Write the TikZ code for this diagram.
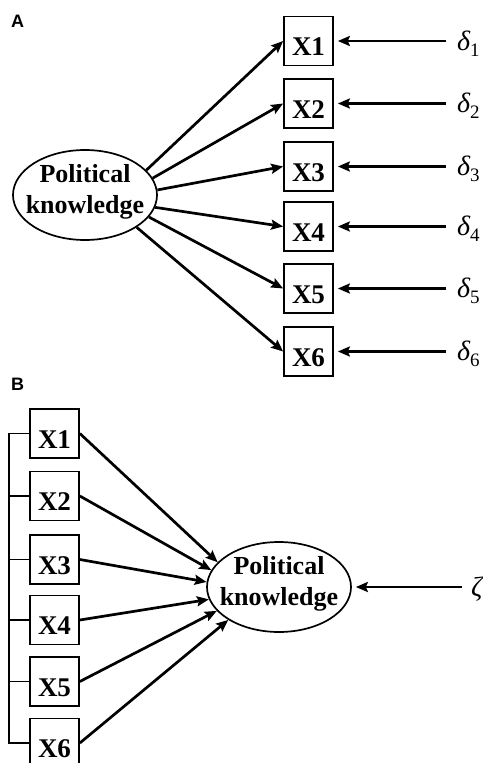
\documentclass[tikz,border=0pt]{standalone}
\usepackage{fontspec}
\setmainfont{Liberation Serif}
\newfontfamily\labfont{Liberation Sans}
\usetikzlibrary{arrows.meta,shapes.geometric}
\newcommand{\errsym}[2]{{\itshape #1}\raisebox{-0.22em}{\fontsize{19}{19}\selectfont\upshape #2}}
\begin{document}
\begin{tikzpicture}[x=1pt,y=-1pt,
 box/.style={draw, line width=1.7pt, minimum width=49pt, minimum height=49pt, inner sep=0pt},
 boxtxt/.style={font=\fontsize{27}{27}\selectfont\bfseries, inner sep=0pt},
 lat/.style={draw, ellipse, line width=1.7pt, minimum width=144pt, minimum height=90pt, inner sep=0pt},
 lattxt/.style={font=\fontsize{26}{31}\selectfont\bfseries, align=center, inner sep=0pt},
 arr/.style={line width=2.7pt, -{Stealth[length=12pt,width=10pt,inset=2pt]}},
 errlbl/.style={font=\fontsize{28}{28}\selectfont, inner sep=0pt, anchor=base west},
 panel/.style={font=\fontsize{18}{18}\selectfont\labfont\bfseries, inner sep=0pt, anchor=base west},
 brk/.style={line width=1.5pt}]
\useasboundingbox (0,0) rectangle (482,763);
\clip (0,0) rectangle (482,763);

% ---------- Panel A ----------
\node[panel] (pA) at (11,27) {A};
\node[lat] (ellA) at (85,195) {};
\node[lattxt] (ellAt) at ([yshift=3pt]ellA.center) {Political\\knowledge};

\foreach \i/\y in {1/41,2/103.5,3/166.5,4/226.5,5/288.5,6/351.5}{
  \node[box] (a\i) at (308.5,\y) {};
  \node[boxtxt] (a\i t) at ([yshift=-6pt]a\i.center) {X\i};
  \node[errlbl] (d\i) at (457,\y+9) {\errsym{δ}{\i}};
  \draw[arr, shorten <=11pt, shorten >=4pt] (a\i.east -| d\i.west) -- (a\i.east);
}
\draw[arr] (ellA.22) -- (a1.west);
\draw[arr] (ellA.14) -- (a2.west);
\draw[arr] (ellA.4) -- (a3.west);
\draw[arr] (ellA.-10) -- (a4.west);
\draw[arr] (ellA.-19) -- (a5.west);
\draw[arr] (ellA.-32) -- (a6.west);

% ---------- Panel B ----------
\node[panel] (pB) at (11,390) {B};
\node[lat] (ellB) at (279,587) {};
\node[lattxt] (ellBt) at ([yshift=3pt]ellB.center) {Political\\knowledge};

\foreach \i/\y in {1/433.5,2/496,3/559.5,4/620,5/681.5,6/743}{
  \node[box] (b\i) at (54.5,\y) {};
  \node[boxtxt] (b\i t) at ([yshift=-6pt]b\i.center) {X\i};
}
\coordinate (brkx) at (9,0);
\draw[brk] (b1.west) -- (b1.west -| brkx) -- (b6.west -| brkx) -- (b6.west);
\foreach \i in {2,3,4,5}{
  \draw[brk] (b\i.west) -- (b\i.west -| brkx);
}
\draw[arr] (b1.east) -- (ellB.158);
\draw[arr] (b2.east) -- (ellB.166);
\draw[arr] (b3.east) -- (ellB.176);
\draw[arr] (b4.east) -- (ellB.190);
\draw[arr] (b5.east) -- (ellB.201);
\draw[arr] (b6.east) -- (ellB.213);

\node[errlbl] (z) at (471,596) {\itshape ζ};
\draw[arr, shorten <=9pt, shorten >=4pt] (ellB.east -| z.west) -- (ellB.east);
\end{tikzpicture}
\end{document}
